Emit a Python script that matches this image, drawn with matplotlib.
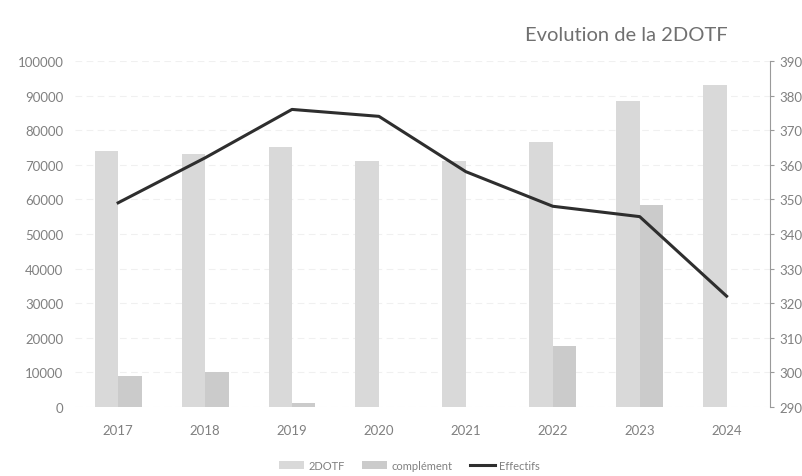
import numpy as np
import matplotlib
matplotlib.use("Agg")
import matplotlib.pyplot as plt

# data
years = ["2017", "2018", "2019", "2020", "2021", "2022", "2023", "2024"]
dotf = [74000, 73000, 75000, 71000, 71000, 76700, 88300, 93000]
complement = [8800, 10000, 1000, 0, 0, 17500, 58300, 0]
effectifs = [349, 362, 376, 374, 358, 348, 345, 322]

plt.rcParams["font.family"] = ["Lato", "DejaVu Sans"]
text_grey = "#808080"

fig = plt.figure(figsize=(8.03, 4.77), dpi=100)
ax = fig.add_axes([0.093, 0.145, 0.866, 0.725])
ax2 = ax.twinx()

x = np.arange(len(years))
w = 0.27
ax.bar(x - w / 2, dotf, width=w, color="#d9d9d9", label="2DOTF", zorder=2)
ax.bar(x + w / 2, complement, width=w, color="#cbcbcb", label="complément", zorder=2)
ax2.plot(x, effectifs, color="#2e2e2e", linewidth=2.2, label="Effectifs", zorder=3)

ax.set_xlim(-0.5, len(years) - 0.5)
ax.set_ylim(0, 100000)
ax.set_yticks(np.arange(0, 100001, 10000))
ax2.set_ylim(290, 390)
ax2.set_yticks(np.arange(290, 391, 10))
ax.set_xticks(x)
ax.set_xticklabels(years)

ax.grid(axis="y", color="#f0f0f0", linestyle=(0, (6, 4)), linewidth=0.8, zorder=0)
ax.set_axisbelow(True)

for a in (ax, ax2):
    for s in a.spines.values():
        s.set_visible(False)
    a.tick_params(colors=text_grey, labelsize=9.5)
ax.tick_params(axis="both", length=0)
ax.tick_params(axis="y", pad=8)
ax.tick_params(axis="x", pad=12)
ax2.spines["right"].set_visible(True)
ax2.spines["right"].set_color("#9a9a9a")
ax2.spines["right"].set_linewidth(0.8)
ax2.tick_params(axis="y", length=3, color="#9a9a9a", pad=4)

fig.text(0.906, 0.925, "Evolution de la 2DOTF", ha="right", va="center",
         fontsize=14.5, color="#707070")

h1, l1 = ax.get_legend_handles_labels()
h2, l2 = ax2.get_legend_handles_labels()
fig.legend(h1 + h2, l1 + l2, loc="center", bbox_to_anchor=(0.51, 0.023),
           ncol=3, frameon=False, fontsize=8, labelcolor=text_grey,
           handlelength=2.2, handletextpad=0.4, columnspacing=1.6)

fig.savefig("out.png", dpi=100)
